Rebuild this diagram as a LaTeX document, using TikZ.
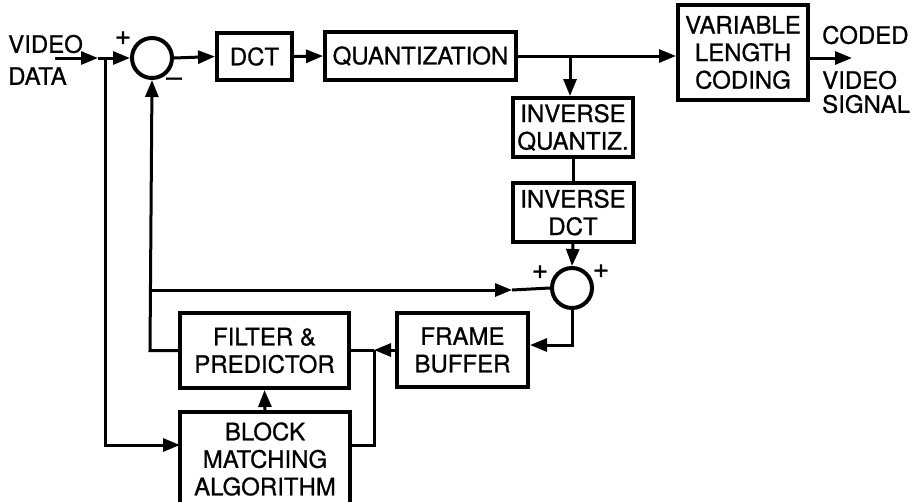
\documentclass[tikz,border=0pt]{standalone}
\usepackage{fontspec}
\setmainfont{TeX Gyre Heros}
\newfontfamily\hv{TeX Gyre Heros}[FakeBold=0.8]
\usetikzlibrary{arrows.meta}
\begin{document}
\begin{tikzpicture}[x=1pt,y=-1pt,
  blk/.style={draw,line width=4pt,inner sep=0pt,align=center,font=\hv\fontsize{24}{27.5}\selectfont},
  summer/.style={draw,circle,line width=4pt,minimum size=40pt,inner sep=0pt},
  lbl/.style={font=\hv\fontsize{24}{27.5}\selectfont,inner sep=0pt},
  sgn/.style={font=\hv\fontsize{28}{28}\selectfont,inner sep=0pt},
  wire/.style={line width=3pt},
  arr/.style={wire,-{Triangle[length=17pt,width=13pt]}}]
\useasboundingbox (0,0) rectangle (913,501);
\fill[white] (0,0) rectangle (913,501);
% blocks
\node[summer] (s1) at (152,58) {};
\node[blk,minimum width=75pt,minimum height=47pt] (dct) at (254.5,56.5) {DCT};
\node[blk,minimum width=191pt,minimum height=48pt] (quant) at (420.5,56) {QUANTIZATION};
\node[blk,minimum width=130pt,minimum height=95pt] (vlc) at (743,52.5) {VARIABLE\\LENGTH\\CODING};
\node[blk,minimum width=120pt,minimum height=59pt] (iq) at (573,127.5) {INVERSE\\QUANTIZ.};
\node[blk,minimum width=121pt,minimum height=59pt] (idct) at (573,212.5) {INVERSE\\DCT};
\node[summer] (s2) at (572,288) {};
\node[blk,minimum width=169pt,minimum height=75pt] (filt) at (264.5,350.5) {FILTER \&\\PREDICTOR};
\node[blk,minimum width=131pt,minimum height=74pt] (fb) at (462.5,350) {FRAME\\BUFFER};
\node[blk,minimum width=170pt,minimum height=96pt,anchor=north] (bma) at (265,410) {};
\node[lbl,align=center] (bmat) at (265,459) {BLOCK\\MATCHING\\ALGORITHM};
% texts
\node[lbl,anchor=west] (vin1) at (8,44) {VIDEO};
\node[lbl,anchor=west] (vin2) at (8,76) {DATA};
\node[lbl,anchor=west] (out1) at (822,35) {CODED};
\node[lbl,anchor=west] (out2) at (822,80) {VIDEO};
\node[lbl,anchor=west] (out3) at (822,104) {SIGNAL};
\node[sgn] (p1) at (123,38) {+};
\node[sgn] (m1) at (174,82) {\textendash};
\node[sgn] (p2) at (540,272) {+};
\node[sgn] (p3) at (601,271) {+};
% coordinates
\coordinate (in) at (55,58);
\coordinate (inA) at (98,58);
\coordinate (j1) at (105,58);
\coordinate (bmaA) at (180,445);
\coordinate (q1) at (570,56);
\coordinate (fbk) at (150,350.5);
\coordinate (fbj) at (150,290);
\coordinate (s2A) at (512,290);
\coordinate (s2b) at (572,345);
\coordinate (jr) at (374,350);
\coordinate (jrb) at (374,445);
\coordinate (outE) at (852,58);
% connectors
\draw[arr] (in) -- (inA);
\draw[wire] (inA) -- (j1);
\draw[arr] (j1) -- (s1.west);
\draw[arr] (j1) |- (bmaA);
\draw[arr] (s1.east) -- (dct.west);
\draw[arr] (dct.east) -- (quant.west);
\draw[arr] (quant.east) -- (vlc.west |- quant.east);
\draw[arr] (q1) -- (iq.north -| q1);
\draw[wire] (iq.south) -- (idct.north);
\draw[arr] (idct.south) -- (s2.north);
\draw[arr] (vlc.east |- outE) -- (outE);
\draw[arr] (filt.west |- fbk) -- (fbk) -- (s1.south);
\draw[arr] (fbj) -- (s2A);
\draw[wire] (s2A) -- (s2.west);
\draw[arr] (s2.south) |- (fb.east |- s2b);
\draw[arr] (fb.west |- jr) -- (jr);
\draw[wire] (jr) -- (filt.east |- jr);
\draw[wire] (bma.east |- jrb) -- (jrb) -- (jr);
\draw[arr] (bma.north) -- (filt.south);
\end{tikzpicture}
\end{document}
